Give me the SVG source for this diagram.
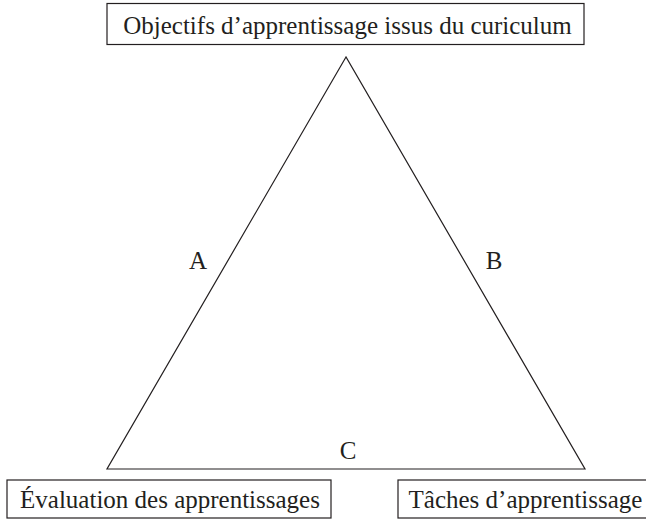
<svg xmlns="http://www.w3.org/2000/svg" width="646" height="521" viewBox="0 0 646 521">
<style>
.box{fill:#fff;stroke:#231f20;stroke-width:1.2}
.t{font-family:"Liberation Serif","Times New Roman",serif;font-size:25px;fill:#231f20}
.edge{fill:none;stroke:#231f20;stroke-width:1.2}
</style>
<rect width="646" height="521" fill="#fff"/>
<g id="connectors">
<path class="edge" d="M346,57 L107,469 L585,469 Z"/>
<text class="t" x="198" y="269" text-anchor="middle">A</text>
<text class="t" x="494" y="269" text-anchor="middle">B</text>
<text class="t" x="348" y="459" text-anchor="middle">C</text>
</g>
<g id="top">
<rect class="box" x="107" y="3.5" width="477" height="41"/>
<text class="t" x="347.5" y="34" text-anchor="middle">Objectifs d’apprentissage issus du curiculum</text>
</g>
<g id="left">
<rect class="box" x="7" y="480" width="324" height="38"/>
<text class="t" x="170" y="508" text-anchor="middle">Évaluation des apprentissages</text>
</g>
<g id="right">
<rect class="box" x="398" y="480" width="250" height="38"/>
<text class="t" x="525.5" y="508" text-anchor="middle">Tâches d’apprentissage</text>
</g>
</svg>
